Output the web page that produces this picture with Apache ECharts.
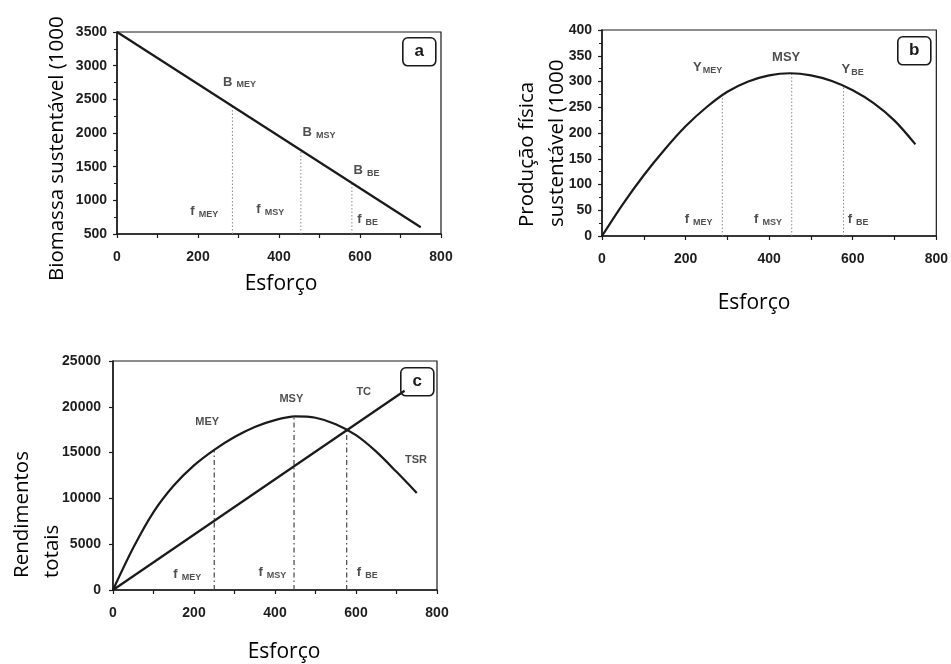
<!DOCTYPE html>
<html>
<head>
<meta charset="utf-8">
<script src="https://cdn.jsdelivr.net/npm/echarts@6/dist/echarts.min.js"></script>
<style>
html,body{margin:0;padding:0;background:#fff;}
#chart{width:951px;height:664px;}
</style>
</head>
<body>
<div id="chart"></div>
<script>
// ---------- data ----------
const effortTicks = [0, 200, 400, 600, 800];

// Panel a: sustainable biomass (straight line)
const aEffort = [0, 750];
const aBiomass = [3500, 600];
const aRefEffort = [285, 454, 580];
const aRefTop = [2400, 1745, 1255];
const aLabelX = [262, 458, 584, 181, 344, 593];
const aLabelY = [2750, 2000, 1440, 830, 860, 710];
const aLabelMain = ['B', 'B', 'B', 'f', 'f', 'f'];
const aLabelSub = ['MEY', 'MSY', 'BE', 'MEY', 'MSY', 'BE'];

// Panel b: sustainable yield (curve)
const bEffort = [0, 50, 100, 150, 200, 250, 300, 350, 400, 450, 500, 550, 600, 650, 700, 750];
const bYield = [0, 62, 118, 168, 213, 250, 280, 300, 312, 316, 312, 301, 283, 258, 224, 178];
const bRefEffort = [288, 454, 578];
const bRefTop = [276, 316, 290];
const bLabelX = [218, 407, 573, 198, 364, 588];
const bLabelY = [326, 346, 322, 31, 31, 31];
const bLabelMain = ['Y', 'MSY', 'Y', 'f', 'f', 'f'];
const bLabelSub = ['MEY', '', 'BE', 'MEY', 'MSY', 'BE'];

// Panel c: total revenue (TSR) and total cost (TC)
const cEffort = [0, 50, 100, 150, 200, 250, 300, 350, 400, 450, 500, 550, 600, 650, 700, 750];
const cRevenue = [0, 4600, 8500, 11400, 13600, 15300, 16700, 17800, 18550, 18950, 18800, 18100, 16900, 15100, 12900, 10600];
const cCostEffort = [0, 720];
const cCost = [0, 21750];
const cRefEffort = [250, 447, 577];
const cRefTop = [15300, 18950, 17450];
const cLabelX = [203, 411, 601, 721, 149, 359, 602];
const cLabelY = [18360, 20900, 21600, 14180, 1640, 1850, 1850];
const cLabelMain = ['MEY', 'MSY', 'TC', 'TSR', 'f', 'f', 'f'];
const cLabelSub = ['', '', '', '', 'MEY', 'MSY', 'BE'];

// ---------- chart ----------
const chart = echarts.init(document.getElementById('chart'), null, {renderer: 'canvas'});
const INK = '#1a1a1a';
const tickFont = {fontFamily: 'Liberation Sans, Arial, sans-serif', fontSize: 14, fontWeight: 'bold', color: '#1e1e1e'};
const titleFont = 'Open Sans, sans-serif';

function xAx(gi, margin) {
  return {
    type: 'value', gridIndex: gi, min: 0, max: 800, interval: 200,
    axisLine: {show: true, onZero: false, lineStyle: {color: INK, width: 1.5}},
    axisTick: {show: true, length: 4, lineStyle: {color: INK, width: 1.2}},
    minorTick: {show: true, splitNumber: 2, length: 4, lineStyle: {color: INK, width: 1.2}},
    splitLine: {show: false},
    axisLabel: Object.assign({margin: margin, formatter: v => effortTicks.includes(v) ? String(v) : ''}, tickFont)
  };
}
function yAx(gi, min, max, interval, minorSplit, margin) {
  return {
    type: 'value', gridIndex: gi, min: min, max: max, interval: interval,
    axisLine: {show: true, onZero: false, lineStyle: {color: INK, width: 1.5}},
    axisTick: {show: true, length: 4, lineStyle: {color: INK, width: 1.2}},
    minorTick: {show: minorSplit > 0, splitNumber: minorSplit || 1, length: 3, lineStyle: {color: INK, width: 1}},
    splitLine: {show: false},
    axisLabel: Object.assign({margin: margin, formatter: v => String(v)}, tickFont)
  };
}

const series = [];
function zip(xs, ys) { return xs.map((x, i) => [x, ys[i]]); }

// main curves
series.push({type: 'line', xAxisIndex: 0, yAxisIndex: 0, data: zip(aEffort, aBiomass), showSymbol: false,
  lineStyle: {color: INK, width: 2.2}, z: 5});
series.push({type: 'line', xAxisIndex: 1, yAxisIndex: 1, data: zip(bEffort, bYield), showSymbol: false, smooth: 0.3,
  lineStyle: {color: INK, width: 2.2}, z: 5});
series.push({type: 'line', xAxisIndex: 2, yAxisIndex: 2, data: zip(cEffort, cRevenue), showSymbol: false, smooth: 0.3,
  lineStyle: {color: INK, width: 2.2}, z: 5});
series.push({type: 'line', xAxisIndex: 2, yAxisIndex: 2, data: zip(cCostEffort, cCost), showSymbol: false,
  lineStyle: {color: INK, width: 2.2}, z: 5});

// vertical reference lines
function refs(ai, xs, tops, base, style) {
  xs.forEach((x, i) => {
    series.push({type: 'line', xAxisIndex: ai, yAxisIndex: ai, data: [[x, base], [x, tops[i]]], showSymbol: false,
      silent: true, lineStyle: style, z: 3});
  });
}
refs(0, aRefEffort, aRefTop, 500, {color: '#8a8a8a', width: 1, type: [1.5, 2]});
refs(1, bRefEffort, bRefTop, 0, {color: '#8a8a8a', width: 1, type: [1.5, 2]});
refs(2, cRefEffort, cRefTop, 0, {color: '#444', width: 1.2, type: [5, 3, 1.5, 3]});

// annotation labels
const rich = {
  m: {fontFamily: 'Liberation Sans, Arial, sans-serif', fontSize: 13, fontWeight: 'bold', color: '#222', verticalAlign: 'top', lineHeight: 14},
  s: {fontFamily: 'Liberation Sans, Arial, sans-serif', fontSize: 9, fontWeight: 'bold', color: '#222', verticalAlign: 'bottom', lineHeight: 10, padding: [9, 0, 0, 4]},
  t: {fontFamily: 'Liberation Sans, Arial, sans-serif', fontSize: 9, fontWeight: 'bold', color: '#222', verticalAlign: 'bottom', lineHeight: 10, padding: [9, 0, 0, 1]},
  p: {fontFamily: 'Liberation Sans, Arial, sans-serif', fontSize: 13, fontWeight: 'bold', color: '#222'},
  q: {fontFamily: 'Liberation Sans, Arial, sans-serif', fontSize: 11, fontWeight: 'bold', color: '#222'}
};
function labels(ai, xs, ys, mains, subs, plainStyle) {
  series.push({
    type: 'scatter', xAxisIndex: ai, yAxisIndex: ai, symbolSize: 0, silent: true, z: 6,
    data: xs.map((x, i) => ({value: [x, ys[i]], main: mains[i], sub: subs[i]})),
    label: {
      show: true, position: 'right', distance: 0, rich: rich,
      formatter: p => {
        const d = p.data;
        if (!d.sub) return '{' + plainStyle + '|' + d.main + '}';
        return '{m|' + d.main + '}{' + (d.main === 'Y' ? 't' : 's') + '|' + d.sub + '}';
      }
    }
  });
}
labels(0, aLabelX, aLabelY, aLabelMain, aLabelSub, 'p');
labels(1, bLabelX, bLabelY, bLabelMain, bLabelSub, 'p');
labels(2, cLabelX, cLabelY, cLabelMain, cLabelSub, 'q');

function panelBox(x, y, letter) {
  return {type: 'group', left: x, top: y, z: 20, children: [
    {type: 'rect', shape: {x: 0, y: 0, width: 33, height: 28, r: 5}, style: {fill: '#fff', stroke: INK, lineWidth: 1.6}},
    {type: 'text', x: 16.5, y: 14, style: {text: letter, fontFamily: 'Liberation Sans, Arial, sans-serif', fontSize: 17, fontWeight: 'bold', fill: INK, textAlign: 'center', textVerticalAlign: 'middle'}}
  ]};
}
function vTitle(x, y, text) {
  return {type: 'text', x: x, y: y, rotation: Math.PI / 2, z: 10,
    style: {text: text, fontFamily: titleFont, fontSize: 20.5, fill: '#000', textAlign: 'left', textVerticalAlign: 'middle', lineHeight: 30}};
}
function hTitle(x, y, text) {
  return {type: 'text', x: x, y: y, z: 10,
    style: {text: text, fontFamily: titleFont, fontSize: 21, fill: '#000', textAlign: 'center', textVerticalAlign: 'middle'}};
}

chart.setOption({
  animation: false,
  backgroundColor: '#fff',
  grid: [
    {left: 117, top: 32, width: 324, height: 202, show: true, borderColor: INK, borderWidth: 1.2, backgroundColor: 'transparent'},
    {left: 602, top: 30, width: 336, height: 206, show: true, borderColor: INK, borderWidth: 1.2, backgroundColor: 'transparent'},
    {left: 113, top: 361, width: 324, height: 229, show: true, borderColor: INK, borderWidth: 1.2, backgroundColor: 'transparent'}
  ],
  xAxis: [xAx(0, 16), xAx(1, 16), xAx(2, 16)],
  yAxis: [yAx(0, 500, 3500, 500, 2, 10), yAx(1, 0, 400, 50, 2, 10), yAx(2, 0, 25000, 5000, 0, 12)],
  series: series,
  graphic: [
    panelBox(402, 37, 'a'),
    panelBox(897, 36, 'b'),
    panelBox(400, 367, 'c'),
    vTitle(57, 281, 'Biomassa sustentável (1000'),
    vTitle(542, 227, 'Produção física\nsustentável (1000'),
    vTitle(37, 578, 'Rendimentos\ntotais'),
    hTitle(281, 284, 'Esforço'),
    hTitle(754, 303, 'Esforço'),
    hTitle(284, 652, 'Esforço')
  ]
});
</script>
</body>
</html>
